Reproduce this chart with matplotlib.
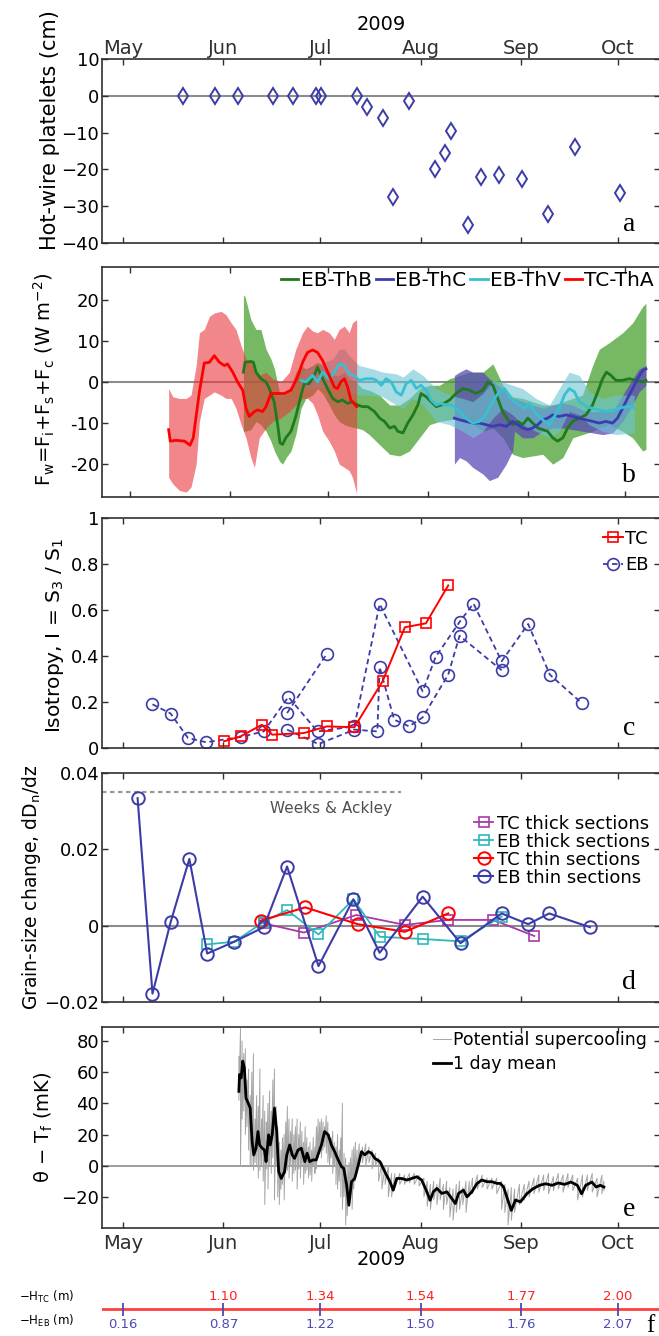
import matplotlib
matplotlib.use('Agg')
import matplotlib.pyplot as plt
import numpy as np

plt.rcParams['font.family'] = ['DejaVu Sans']
plt.rcParams['mathtext.default'] = 'regular'

# time axis: days counted from 1 May 2009
month_days = [0, 31, 61, 92, 123, 153]
month_names = ['May', 'Jun', 'Jul', 'Aug', 'Sep', 'Oct']

# ---- a: hot-wire platelets
hw_days = [18.5, 28.3, 35.4, 46.4, 52.4, 59.5, 61.2, 72.3, 75.4, 80.2, 83.5,
           88.5, 96.5, 99.6, 101.4, 106.6, 110.6, 116.3, 123.4, 131.3, 139.7, 153.5]
hw_cm = [0, 0, 0, 0, 0, 0, 0, 0, -3, -6, -27.5, -1.5, -20, -15.5, -9.5, -35,
         -22, -21.5, -22.5, -32, -14, -26.5]

# ---- b: ocean heat flux
tca_days = [11.9, 12.4, 14.2, 16.8, 18.5, 19.5, 21.4, 22.9, 24.5, 26.0, 27.6, 29.1, 30.1,
            31.7, 33.2, 34.8, 35.8, 36.8, 38.4, 39.4, 40.9, 42.0, 43.5, 45.1, 47.6, 49.7,
            51.7, 53.3, 54.8, 56.4, 57.9, 59.5, 61.5, 63.1, 64.1, 65.1, 66.2, 67.2, 68.2, 70.0]
tca_flux = [-11.6, -14.4, -14.2, -14.4, -15.4, -13.6, -2.4, 4.6, 4.8, 6.4, 4.8, 4.0, 4.4,
            2.4, 0.0, -2.0, -6.4, -8.4, -7.2, -6.8, -7.2, -6.0, -2.8, -2.8, -2.8, -2.0,
            1.2, 4.8, 7.2, 7.8, 7.2, 5.2, 1.6, -1.2, -1.6, 0.0, 0.8, -1.2, -4.4, -6.0]
tca_band_days = [11.9, 13.2, 15.2, 17.3, 18.8, 20.4, 21.4, 22.9, 24.5, 26.0, 28.1, 29.6,
                 31.2, 32.7, 34.3, 35.8, 37.3, 38.4, 39.9, 42.0, 44.0, 46.6, 49.2, 51.2,
                 53.3, 54.8, 56.4, 57.9, 59.5, 61.5, 63.1, 64.6, 66.2, 67.7, 68.7, 70.0]
tca_hi = [-1.6, -3.6, -4, -4, -3.2, 4, 12, 12.8, 16, 16.8, 17.2, 16.4, 14.4, 12.8, 8.8,
          5.6, 4.8, 3.2, 1.6, 2.4, 0.8, 0, 2.4, 8, 12, 13.6, 12.4, 12, 12.8, 12, 10.4,
          12.8, 13.6, 12, 14.4, 15.2]
tca_lo = [-23.2, -24.8, -26.4, -26.8, -25.6, -20, -9.6, -4, -3.2, -2.4, -3.2, -4, -4,
          -6.4, -10.4, -13.6, -18.4, -20.8, -13.6, -11.2, -9.6, -8.8, -7.2, -5.6, -4, -4,
          -5.2, -8, -12, -14.4, -16.8, -20, -20.8, -21.6, -23.2, -27.2]

thb_days = [35.0, 35.5, 37.3, 38.1, 38.9, 40.4, 42.0, 43.0, 44.5, 45.6, 46.3, 47.1, 48.1,
            49.7, 51.2, 52.8, 53.8, 55.3, 56.9, 57.9, 59.5, 61.5, 62.6, 64.1, 65.6, 67.2,
            68.7, 70.3, 71.8, 73.4, 75.5, 77.1, 78.6, 80.2, 81.7, 82.7, 84.3, 85.8, 87.4,
            88.9, 89.9, 91.5, 93.0, 94.6, 96.1, 98.7, 100.7, 102.8, 104.9, 106.9, 109.0,
            110.5, 112.1, 113.6, 115.1, 116.7, 118.2, 119.8, 121.3, 122.9, 124.4, 126.0,
            127.5, 129.0, 130.6, 132.1, 133.7, 135.2, 136.8, 138.8, 140.9, 142.9, 144.5,
            146.0, 147.2, 148.6, 150.1, 152.2, 154.2, 156.3, 158.4, 159.4]
thb_flux = [2.4, 4.8, 5.0, 4.8, 2.4, 0.8, 0.0, -1.6, -4.8, -10.4, -14.8, -15.2, -13.6,
            -12.0, -8.4, -3.2, -0.4, -0.4, 1.6, 3.6, 0.8, -2.4, -4.0, -4.8, -4.4, -5.2,
            -4.8, -5.6, -6.0, -6.0, -7.2, -8.8, -9.6, -11.2, -10.8, -12.0, -12.4, -10.0,
            -8.0, -5.6, -2.8, -3.6, -4.8, -6.0, -5.6, -4.4, -2.8, -1.6, -2.0, -2.8, -2.0,
            0.0, -0.8, -4.0, -7.2, -9.2, -10.4, -9.6, -10.4, -8.8, -10.0, -11.2, -11.6,
            -12.0, -13.6, -14.4, -13.6, -11.2, -9.6, -8.8, -8.0, -5.6, -2.4, 0.8, 2.4,
            1.6, 0.4, 0.4, 0.8, 0.4, 0.0, 0.4]
thb_band_days = [35.0, 35.5, 37.3, 38.9, 40.4, 42.0, 43.5, 44.6, 46.1, 47.1, 48.2, 49.7,
                 51.2, 52.8, 54.3, 56.4, 57.9, 59.5, 61.5, 63.1, 64.6, 66.2, 67.7, 69.8,
                 71.8, 73.9, 77.0, 80.2, 83.3, 86.3, 89.4, 92.5, 95.6, 98.7, 101.8, 104.9,
                 109.0, 112.1, 115.2, 118.2, 121.3, 124.4, 127.5, 130.6, 133.7, 136.8,
                 139.8, 142.9, 145.0, 148.1, 152.2, 155.3, 158.4, 159.4]
thb_hi = [21.2, 20.8, 15.2, 12.8, 12.8, 8, 5.6, 3.2, -2.4, -3.2, -2.4, -1.2, 2.4, 4, 3.2,
          4, 4.8, 4, 2.4, 1.6, 1.6, 2.4, 0.8, 0, -1.6, -2, -3.2, -5.6, -5.6, -4, -1.6,
          -0.8, -0.8, 0.8, 1.6, 2.4, 2.4, 4.4, -0.8, -3.6, -4, -4.8, -5.6, -5.6, -4.8,
          -4, -3.2, 4, 8, 9.6, 12, 14.4, 18.4, 19.2]
thb_lo = [-12, -12, -11.6, -9.6, -10.4, -12, -14.4, -16.8, -19.2, -20, -18.4, -16.8,
          -12.8, -6.4, -4, -3.2, -1.6, -2.8, -5.6, -8, -9.6, -10.4, -10.8, -11.2, -11.6,
          -12.8, -15.2, -17.6, -18, -16.8, -13.6, -10.4, -9.6, -9.2, -8.8, -9.6, -12,
          -11.2, -13.6, -17.6, -18.4, -18, -17.6, -20, -18.4, -13.6, -12.8, -12, -11.2,
          -10.4, -12, -13.6, -16.8, -16.4]

thv_days = [52.8, 54.3, 56.4, 57.9, 59.5, 61.5, 63.1, 64.6, 66.2, 67.7, 69.2, 70.8, 72.8,
            74.9, 76.1, 77.6, 79.1, 80.7, 82.2, 83.8, 85.3, 86.9, 88.4, 89.9, 91.5, 93.0,
            94.6, 96.1, 97.7, 99.2, 100.7, 102.8, 104.4, 105.9, 108.0, 109.5, 111.0, 112.6,
            114.1, 115.7, 117.2, 118.8, 120.3, 121.8, 123.4, 124.9, 126.5, 128.0, 129.6,
            131.1, 132.6, 134.2, 135.7, 137.3, 138.8, 140.9, 142.9, 145.0, 147.0, 149.1,
            151.2, 153.2, 154.8, 155.8]
thv_flux = [0.4, 0, 1.6, 0, 2.4, 0.8, 2.4, 4.4, 4, 2, 1.6, 0.4, 0.8, 0.8, 0.4, -0.8, 0.8,
            0, -2.4, -3.2, -0.4, 0.4, -1.6, -0.8, -2, -4.4, -5.6, -5.2, -5.6, -5.6, -6.4,
            -8, -9.2, -10, -9.6, -8.4, -6.4, -4, -2.4, -1.6, -3.6, -4.8, -5.6, -6.4, -5.2,
            -7.2, -8.4, -9.6, -10.4, -8.4, -6.4, -3.2, -1.6, -2.4, -4.8, -6, -6.4, -6.8,
            -7.2, -6.8, -6.4, -6, -6, -6.4]
thv_band_days = [52.8, 56.4, 62.6, 64.6, 66.2, 67.7, 70.8, 74.9, 78.1, 82.2, 84.3, 87.4,
                 90.5, 94.6, 98.7, 102.8, 105.9, 109.0, 112.1, 115.2, 118.2, 121.3, 125.4,
                 129.6, 132.6, 135.7, 138.8, 141.9, 146.0, 150.1, 155.8]
thv_hi = [2.4, 3.6, 5.6, 8, 8, 6.4, 4, 3.2, 2.4, 2, 1.2, 3.2, 1.6, -1.6, -3.2, -4, -4.8,
          -2.8, 0.4, 0, -0.8, -1.6, -4, -5.6, -1.6, 2.4, 1.6, -2.4, -4, -3.2, -3.2]
thv_lo = [-2, -1.6, -0.8, 0, -0.8, -2.4, -3.2, -3.2, -3.6, -5.6, -6.4, -4, -5.6, -9.6,
          -10.4, -12, -13.6, -12, -8.8, -6.4, -8, -10.4, -12, -13.6, -12, -7.2, -8, -10.4,
          -12, -12.8, -12.4]

thc_days = [100.2, 101.8, 103.8, 105.9, 108.0, 110.0, 112.1, 114.1, 116.2, 118.2, 119.8,
            121.3, 122.9, 124.4, 126.0, 127.5, 129.0, 130.6, 132.6, 134.7, 136.8, 138.8,
            140.9, 142.9, 145.0, 147.0, 149.1, 150.6, 152.2, 153.7, 155.3, 156.8, 158.4, 159.4]
thc_flux = [-8.8, -9.2, -9.6, -10, -10, -10.4, -10.8, -10.4, -10.8, -9.6, -10.4, -11.2,
            -11.6, -11.2, -10.4, -9.2, -8.8, -8, -8.4, -8, -8.4, -8.8, -9.2, -9.6, -10,
            -9.6, -10, -8.8, -6.4, -4, -1.6, 0.8, 2.8, 3.2]
thc_band_days = [100.2, 101.8, 103.8, 105.9, 109.0, 111.0, 113.6, 116.2, 118.2, 118.8,
                 121.3, 124.4, 127.5, 130.6, 133.7, 136.8, 139.8, 142.9, 146.0, 149.1,
                 152.2, 155.3, 157.3, 159.4]
thc_hi = [1.6, 2.4, 3.2, 2.4, 2.4, 0.8, -0.8, -2.4, -4, -4, -4.8, -5.6, -6.4, -5.6, -5.2,
          -5.6, -6.8, -7.2, -7.2, -7.2, -3.2, 0.8, 3.2, 4]
thc_lo = [-20, -18.4, -19.2, -20.8, -22.4, -24, -23.2, -20, -16.8, -12, -13.6, -13.6, -12,
          -11.2, -11.2, -11.6, -12, -12.4, -12.8, -12.4, -9.6, -5.6, -2.4, -0.8]

# ---- c: isotropy
tc_iso_days = [31.2, 36.4, 42.9, 46.1, 55.9, 63.0, 71.5, 80.2, 87.1, 93.6, 100.5]
tc_iso = [0.029, 0.051, 0.101, 0.058, 0.065, 0.094, 0.09, 0.29, 0.525, 0.542, 0.707]
eb_iso_days_1 = [9.1, 14.7, 20.1, 25.7, 36.4, 43.5, 51.1, 60.1, 71.5, 79.3, 92.6, 96.6,
                 104.0, 108.3, 117.0, 125.2, 131.9, 141.7]
eb_iso_1 = [0.19, 0.15, 0.043, 0.025, 0.048, 0.072, 0.222, 0.072, 0.094, 0.626, 0.246,
            0.396, 0.548, 0.628, 0.377, 0.539, 0.319, 0.196]
eb_iso_days_2 = [50.7, 63.0]
eb_iso_2 = [0.152, 0.41]
eb_iso_days_3 = [50.7, 60.4, 71.5, 78.6, 79.3, 83.8, 88.4, 92.6, 100.5, 104.0, 117.0]
eb_iso_3 = [0.08, 0.017, 0.08, 0.072, 0.352, 0.123, 0.094, 0.133, 0.319, 0.488, 0.338]

# ---- d: grain-size change
eb_thin_days = [4.5, 9.1, 14.7, 20.5, 26.0, 34.4, 43.5, 50.7, 60.4, 71.2, 79.3, 92.6,
                104.3, 117.0, 125.2, 131.7, 144.3]
eb_thin = [0.0334, -0.0178, 0.0009, 0.0175, -0.0073, -0.0042, -0.0004, 0.0155, -0.0106,
           0.0069, -0.0071, 0.0076, -0.0046, 0.0032, 0.0004, 0.0032, -0.0004]
eb_thick_days = [26.0, 34.4, 43.5, 50.7, 60.4, 71.2, 79.3, 92.6, 104.3, 117.0]
eb_thick = [-0.0049, -0.0042, 0.001, 0.0041, -0.0023, 0.0069, -0.0029, -0.0035, -0.0041, 0.0024]
tc_thick_days = [43.5, 55.9, 72.1, 87.1, 100.5, 114.4, 127.1]
tc_thick = [0.0006, -0.0018, 0.0028, 0.0002, 0.0015, 0.0015, -0.0027]
tc_thin_days = [42.5, 56.3, 72.5, 87.1, 100.5]
tc_thin = [0.0013, 0.0048, 0.0004, -0.0016, 0.0032]
weeks_ackley = 0.035
weeks_ackley_end = 85.8

# ---- e: potential supercooling
raw_days = [35.8, 36.3, 36.8, 37.3, 37.8, 38.3, 38.8, 39.3, 39.8, 40.3, 40.8, 41.3, 41.8,
            42.3, 42.8, 43.3, 43.8, 44.3, 44.8, 45.3, 45.8, 46.3, 46.8, 47.3, 47.8, 48.3,
            48.8, 49.3, 49.8, 50.3, 50.8, 51.3, 51.8, 52.3, 52.8, 53.3, 53.8, 54.3, 54.8,
            55.3, 55.8, 56.3, 56.8, 57.3, 57.8, 58.3, 58.8, 59.3, 59.8, 60.3, 60.8, 61.3,
            61.8, 62.3, 62.8, 63.3, 63.8, 64.3, 64.8, 65.3, 65.8, 66.3, 66.8, 67.3, 67.8,
            68.3, 68.8, 69.3, 69.8, 70.3, 70.8, 71.3, 71.8, 72.3, 73.0, 74.0, 75.0, 76.0,
            77.0, 78.0, 79.0, 80.0, 81.0, 82.0, 83.0, 84.0, 85.5, 87.0, 88.5, 90.0, 91.5,
            93.0, 94.0, 95.0, 96.0, 97.0, 98.0, 99.0, 100.0, 101.0, 102.0, 103.0, 104.0,
            105.0, 106.0, 107.0, 108.0, 109.5, 111.0, 112.5, 114.0, 115.5, 117.0, 118.0,
            119.0, 120.0, 121.0, 122.5, 124.0, 125.5, 127.0, 128.5, 130.0, 131.5, 133.0,
            134.5, 136.0, 137.5, 139.0, 140.5, 142.0, 143.5, 145.0, 146.5, 148.0, 148.6]
raw_hi = [70, 88, 80, 72, 75, 55, 62, 45, 60, 72, 30, 45, 38, 62, 30, 45, 35, 28, 40, 48,
          35, 55, 62, 38, 25, 15, 10, 18, 20, 28, 38, 30, 22, 30, 20, 25, 30, 20, 28, 22,
          15, 25, 18, 12, 15, 10, 18, 12, 25, 30, 28, 30, 28, 25, 32, 28, 20, 18, 22, 15,
          12, 20, 10, 18, 40, 8, 5, 0, 2, 5, 10, 12, 15, 10, 14, 12, 14, 12, 10, 8, 5, 2,
          0, 0, -5, -5, -5, -6, -5, -5, -6, -8, -10, -12, -10, -12, -8, -12, -10, -14,
          -15, -12, -10, -14, -10, -10, -8, -6, -6, -8, -8, -8, -10, -12, -15, -14, -15,
          -12, -12, -10, -8, -6, -6, -5, -7, -5, -6, -5, -6, -8, -6, -6, -5, -8, -6, -10]
raw_lo = [42, 0, 30, 35, 20, 25, 10, 0, 0, -3, 2, 0, -8, -3, 0, -10, -25, -2, -15, 0, -5,
          5, -22, 0, -20, -25, -15, -12, -22, -5, -3, -8, 0, -10, -5, -3, -15, -2, -8, 0,
          -12, -5, -3, -8, -6, -10, 0, -5, -2, 5, 8, 5, 10, 12, 8, 2, 0, 5, -5, 0, -12,
          -15, -10, -20, -28, -20, -38, -32, -25, -20, -28, -15, -10, -5, 0, 2, 0, 2, -2,
          0, -10, -15, -12, -20, -20, -14, -12, -12, -11, -12, -13, -20, -26, -28, -22,
          -25, -22, -28, -25, -33, -35, -30, -28, -25, -30, -20, -18, -15, -14, -15, -15,
          -18, -28, -30, -38, -35, -30, -25, -22, -20, -18, -17, -16, -18, -16, -15, -17,
          -14, -16, -22, -20, -16, -17, -20, -18, -16]
mean_days = [35.8, 36.0, 36.5, 37.0, 37.5, 38.0, 38.9, 39.3, 39.9, 40.4, 41.1, 41.7, 42.2,
             43.0, 43.7, 44.2, 45.0, 45.5, 46.1, 46.8, 47.5, 48.1, 48.9, 49.9, 50.6, 51.5,
             52.3, 53.0, 54.1, 55.1, 56.2, 56.9, 57.7, 58.7, 59.7, 61.3, 62.3, 63.4, 64.4,
             65.4, 66.5, 67.5, 68.2, 69.1, 69.8, 70.6, 71.6, 72.7, 73.7, 74.7, 75.8, 76.8,
             77.8, 79.4, 80.9, 82.5, 83.5, 84.6, 86.1, 87.7, 89.2, 90.8, 92.3, 93.9, 94.9,
             95.9, 97.0, 98.5, 100.1, 101.6, 102.7, 103.7, 105.2, 106.3, 107.8, 109.4,
             110.9, 112.5, 114.0, 115.6, 116.6, 117.6, 118.9, 120.0, 121.3, 122.8, 124.8,
             126.7, 128.7, 130.6, 132.6, 134.5, 136.5, 138.4, 140.4, 141.7, 143.0, 144.9,
             146.2, 147.5, 148.6]
mean_mk = [47.7, 58.5, 56.3, 67.1, 62.8, 43.4, 39.1, 37.0, 15.5, 6.9, 11.2, 21.9, 13.3,
           11.2, 10.1, 2.6, 19.8, 13.3, 19.8, 37.0, 21.9, -3.9, -8.2, -3.9, 6.9, 13.3, 6.9,
           4.7, 10.1, 11.2, 2.6, 8.0, 2.6, 3.7, 3.7, 13.3, 21.9, 19.8, 13.3, 9.0, 3.7,
           -0.6, -1.7, -12.5, -25.4, -10.3, -8.2, 0.4, 9.0, 6.9, 9.0, 8.0, 4.7, 2.6, -3.9,
           -10.3, -15.7, -8.2, -8.2, -9.2, -8.2, -7.1, -9.2, -16.8, -22.2, -16.8, -14.6,
           -17.8, -16.8, -21.1, -24.3, -17.8, -15.7, -20.0, -16.8, -11.4, -9.2, -10.3,
           -10.3, -11.4, -11.4, -13.7, -22.0, -28.7, -22.0, -23.3, -18.0, -14.8, -12.6,
           -11.6, -12.6, -11.1, -12.0, -10.5, -12.6, -18.0, -12.6, -10.5, -13.7, -12.6, -13.7]

# ---- f: ice thickness at the first of each month
h_tc_days = [31, 61, 92, 123, 153]
h_tc = [1.10, 1.34, 1.54, 1.77, 2.00]
h_eb_days = [0, 31, 61, 92, 123, 153]
h_eb = [0.16, 0.87, 1.22, 1.50, 1.76, 2.07]

# ---------------------------------------------------------------
W_PX, H_PX = 659, 1336
fig = plt.figure(figsize=(W_PX / 100, H_PX / 100), dpi=100)
left = 102 / W_PX
width = 558.5 / W_PX
xlim = (-6.5, 166.1)
xlim_b = (-8.7, 163.9)


def panel(top, bottom):
    return fig.add_axes([left, 1 - bottom / H_PX, width, (bottom - top) / H_PX])


def style(ax, lim):
    ax.set_xlim(lim)
    ax.set_xticks(month_days)
    for s in ax.spines.values():
        s.set_color('#303030')
        s.set_linewidth(1.2)
    ax.tick_params(direction='in', top=True, right=True, length=4, width=1,
                   colors='#303030', labelsize=13, labelbottom=False, pad=2)
    for t in ax.get_yticklabels():
        t.set_color('black')


def letter(ax, s, y=0.03):
    ax.text(0.944, y, s, transform=ax.transAxes, ha='center', va='bottom',
            family='Liberation Serif', fontsize=20)


blue = '#3c3ca8'
zero_kw = dict(color='#8c8c8c', lw=1.5, zorder=1)

# a
ax = panel(59, 243)
style(ax, xlim)
ax.axhline(0, **zero_kw)
ax.plot(hw_days, hw_cm, ls='none', marker='d', ms=8.5, mfc='none', mec=blue, mew=1.4)
ax.set_ylim(-40, 10)
ax.set_yticks([10, 0, -10, -20, -30, -40])
ax.tick_params(labeltop=True, labelbottom=False)
ax.set_xticklabels(month_names, fontsize=14)
ax.tick_params(axis='x', pad=1)
ax.xaxis.set_label_position('top')
ax.set_xlabel('2009', fontsize=14, labelpad=6)
ax.set_ylabel('Hot-wire platelets (cm)', fontsize=15)
ax.yaxis.set_label_coords(-0.075, 0.614)
letter(ax, 'a')

# b
ax = panel(267, 497)
style(ax, xlim_b)
ax.axhline(0, **zero_kw)
ax.fill_between(thb_band_days, thb_lo, thb_hi, color='#4aa032', alpha=0.75, lw=0)
ax.fill_between(thc_band_days, thc_lo, thc_hi, color='#5a4ab8', alpha=0.75, lw=0)
ax.fill_between(thv_band_days, thv_lo, thv_hi, color='#6cc6d4', alpha=0.6, lw=0)
ax.fill_between(tca_band_days, tca_lo, tca_hi, color='#e8383c', alpha=0.6, lw=0)
ax.plot(thb_days, thb_flux, color='#1e7a1e', lw=2, label='EB-ThB')
ax.plot(thc_days, thc_flux, color='#3c3cb0', lw=2, label='EB-ThC')
ax.plot(thv_days, thv_flux, color='#38c0d0', lw=2, label='EB-ThV')
ax.plot(tca_days, tca_flux, color='#ff0000', lw=2, label='TC-ThA')
ax.set_ylim(-28, 28)
ax.set_yticks([-20, -10, 0, 10, 20])
ax.set_yticklabels(['-20', '-10', '0', '10', '20'])
ax.set_ylabel('F$_w$=F$_i$+F$_s$+F$_c$ (W m$^{-2}$)', fontsize=14)
ax.yaxis.set_label_coords(-0.08, 0.51)
ax.legend(loc='upper right', bbox_to_anchor=(1.01, 1.035), ncol=4, frameon=False,
          fontsize=14.5, handlelength=0.85, handletextpad=0.12, columnspacing=0.2,
          borderaxespad=0.2)
letter(ax, 'b', 0.04)

# c
ax = panel(518, 748)
style(ax, xlim)
ax.plot(tc_iso_days, tc_iso, color='#ff0000', lw=1.4, marker='s', ms=6.5, mfc='none',
        mew=1.2, label='TC', zorder=4)
for dd, vv, lab in [(eb_iso_days_1, eb_iso_1, 'EB'), (eb_iso_days_2, eb_iso_2, None),
                    (eb_iso_days_3, eb_iso_3, None)]:
    ax.plot(dd, vv, color=blue, lw=1.3, ls='--', dashes=(3, 2), marker='o', ms=8.5,
            mfc='none', mew=1.2, label=lab)
ax.set_ylim(0, 1)
ax.set_yticks([0, 0.2, 0.4, 0.6, 0.8, 1])
ax.set_yticklabels(['0', '0.2', '0.4', '0.6', '0.8', '1'])
ax.set_ylabel('Isotropy, I = S$_3$ / S$_1$', fontsize=14.5)
ax.yaxis.set_label_coords(-0.065, 0.49)
ax.legend(loc='upper right', bbox_to_anchor=(1.0, 1.0), frameon=False, fontsize=13,
          handlelength=1.1, handletextpad=0.15, labelspacing=0.45, borderaxespad=0.25)
letter(ax, 'c', 0.03)

# d
ax = panel(773, 1002)
style(ax, xlim)
ax.axhline(0, **zero_kw)
ax.plot([xlim[0], weeks_ackley_end], [weeks_ackley, weeks_ackley], color='#9a9a9a',
        lw=1.6, ls=(0, (2, 1.6)))
ax.text(64.3, 0.0308, 'Weeks & Ackley', ha='center', va='center', fontsize=11,
        color='#505050')
ax.plot(tc_thick_days, tc_thick, color='#a83aa8', lw=1.3, marker='s', ms=6.5,
        mfc='none', mew=1.2, label='TC thick sections')
ax.plot(eb_thick_days, eb_thick, color='#2eb8bc', lw=1.3, marker='s', ms=6.5,
        mfc='none', mew=1.2, label='EB thick sections')
ax.plot(tc_thin_days, tc_thin, color='#ff0000', lw=1.5, marker='o', ms=9,
        mfc='none', mew=1.4, label='TC thin sections')
ax.plot(eb_thin_days, eb_thin, color=blue, lw=1.5, marker='o', ms=9,
        mfc='none', mew=1.4, label='EB thin sections')
ax.set_ylim(-0.02, 0.04)
ax.set_yticks([-0.02, 0, 0.02, 0.04])
ax.set_yticklabels(['\u22120.02', '0', '0.02', '0.04'])
ax.set_ylabel('Grain-size change, dD$_n$/dz', fontsize=13.5)
ax.yaxis.set_label_coords(-0.105, 0.5)
ax.legend(loc='upper right', bbox_to_anchor=(1.0, 0.865), frameon=False, fontsize=13,
          handlelength=1.05, handletextpad=0.2, labelspacing=0.0, borderaxespad=0.2)
letter(ax, 'd', 0.03)

# e
ax = panel(1027, 1228)
style(ax, xlim)
ax.axhline(0, color='#8c8c8c', lw=1.2, zorder=1)
raw_x = np.column_stack([raw_days, raw_days]).ravel()
raw_y = np.column_stack([raw_hi, raw_lo]).ravel()
ax.plot(raw_x, raw_y, color='#a6a6a6', lw=0.7, label='Potential supercooling')
ax.plot(mean_days, mean_mk, color='black', lw=2, label='1 day mean')
ax.set_ylim(-40, 89)
ax.set_yticks([-20, 0, 20, 40, 60, 80])
ax.tick_params(labelbottom=True)
ax.set_xticklabels(month_names, fontsize=14)
ax.tick_params(axis='x', pad=4)
ax.set_xlabel('2009', fontsize=14, labelpad=-2)
ax.set_ylabel('\u03b8 \u2212 T$_f$ (mK)', fontsize=14)
ax.yaxis.set_label_coords(-0.084, 0.5)
ax.legend(loc='upper right', bbox_to_anchor=(0.995, 1.03), frameon=False, fontsize=12.5,
          handlelength=1.0, handletextpad=0.15, labelspacing=0.3, borderaxespad=0.2)
letter(ax, 'e', 0.03)

# f
axf = fig.add_axes([left, 0, width, 50 / H_PX])
axf.set_xlim(xlim)
axf.set_ylim(0, 1)
axf.axis('off')
axf.axhline(0.54, color='#ff4040', lw=2)
axf.vlines(h_eb_days, 0.40, 0.66, color='#4a4ab8', lw=1.3)
for d, v in zip(h_tc_days, h_tc):
    axf.text(d, 0.78, '%.2f' % v, color='#ff2020', ha='center', va='center', fontsize=9.5)
for d, v in zip(h_eb_days, h_eb):
    axf.text(d, 0.24, '%.2f' % v, color='#4a4ab8', ha='center', va='center', fontsize=9.5)
fig.text(74 / W_PX, 1 - 1297 / H_PX, '\u2212H$_{TC}$ (m)', ha='right', va='center',
         fontsize=8.5)
fig.text(74 / W_PX, 1 - 1321 / H_PX, '\u2212H$_{EB}$ (m)', ha='right', va='center',
         fontsize=8.5)
fig.text(650 / W_PX, 1 - 1315 / H_PX, 'f', ha='center', va='top',
         family='Liberation Serif', fontsize=18)

fig.savefig('out.png', dpi=100)
